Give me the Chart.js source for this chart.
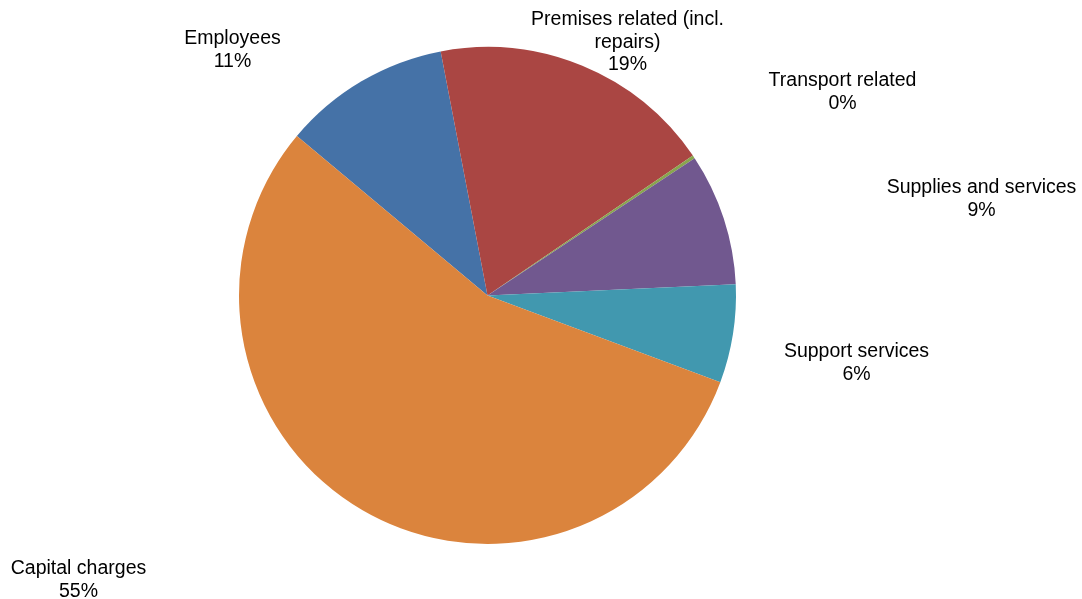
<!DOCTYPE html>
<html>
<head>
<meta charset="utf-8">
<script src="https://cdn.jsdelivr.net/npm/chart.js@4/dist/chart.umd.min.js"></script>
<style>
html,body{margin:0;padding:0;background:#fff;}
#wrap{width:1082px;height:599px;position:relative;}
</style>
</head>
<body>
<div id="wrap"><canvas id="c" width="1082" height="599"></canvas></div>
<script>
const categories = ["Employees", "Premises related (incl. repairs)", "Transport related", "Supplies and services", "Support services", "Capital charges"];
const labelLines = [["Employees"], ["Premises related (incl.", "repairs)"], ["Transport related"], ["Supplies and services"], ["Support services"], ["Capital charges"]];
const values = [10.9, 18.5, 0.2, 8.6, 6.4, 55.4];
const colors = ["#4572A7", "#AA4643", "#89A54E", "#71588F", "#4198AF", "#DB843D"];

// label anchor (centre of first line) as offsets from pie centre
const labelOffsets = [[-255, -257], [140, -276], [355, -215], [494, -108], [369, 56], [-409, 273]];

const labelPlugin = {
  id: 'outLabels',
  afterDraw(chart) {
    const ctx = chart.ctx;
    const meta = chart.getDatasetMeta(0);
    const arc0 = meta.data[0];
    const cx = arc0.x, cy = arc0.y;
    const total = values.reduce((a, b) => a + b, 0);
    ctx.save();
    ctx.font = '19.5px "Liberation Sans", Arial, sans-serif';
    ctx.fillStyle = '#000';
    ctx.textAlign = 'center';
    ctx.textBaseline = 'middle';
    values.forEach((v, i) => {
      const lines = labelLines[i].concat([Math.round(v / total * 100) + '%']);
      const x = cx + labelOffsets[i][0];
      let y = cy + labelOffsets[i][1];
      lines.forEach(l => { ctx.fillText(l, x, y); y += 22.8; });
    });
    ctx.restore();
  }
};

new Chart(document.getElementById('c'), {
  type: 'pie',
  data: {
    labels: categories,
    datasets: [{ data: values, backgroundColor: colors, borderWidth: 0 }]
  },
  options: {
    responsive: false,
    animation: false,
    rotation: -50.1,
    layout: { padding: { left: 239, right: 346, top: 47, bottom: 55 } },
    plugins: { legend: { display: false }, tooltip: { enabled: false } }
  },
  plugins: [labelPlugin]
});
</script>
</body>
</html>
